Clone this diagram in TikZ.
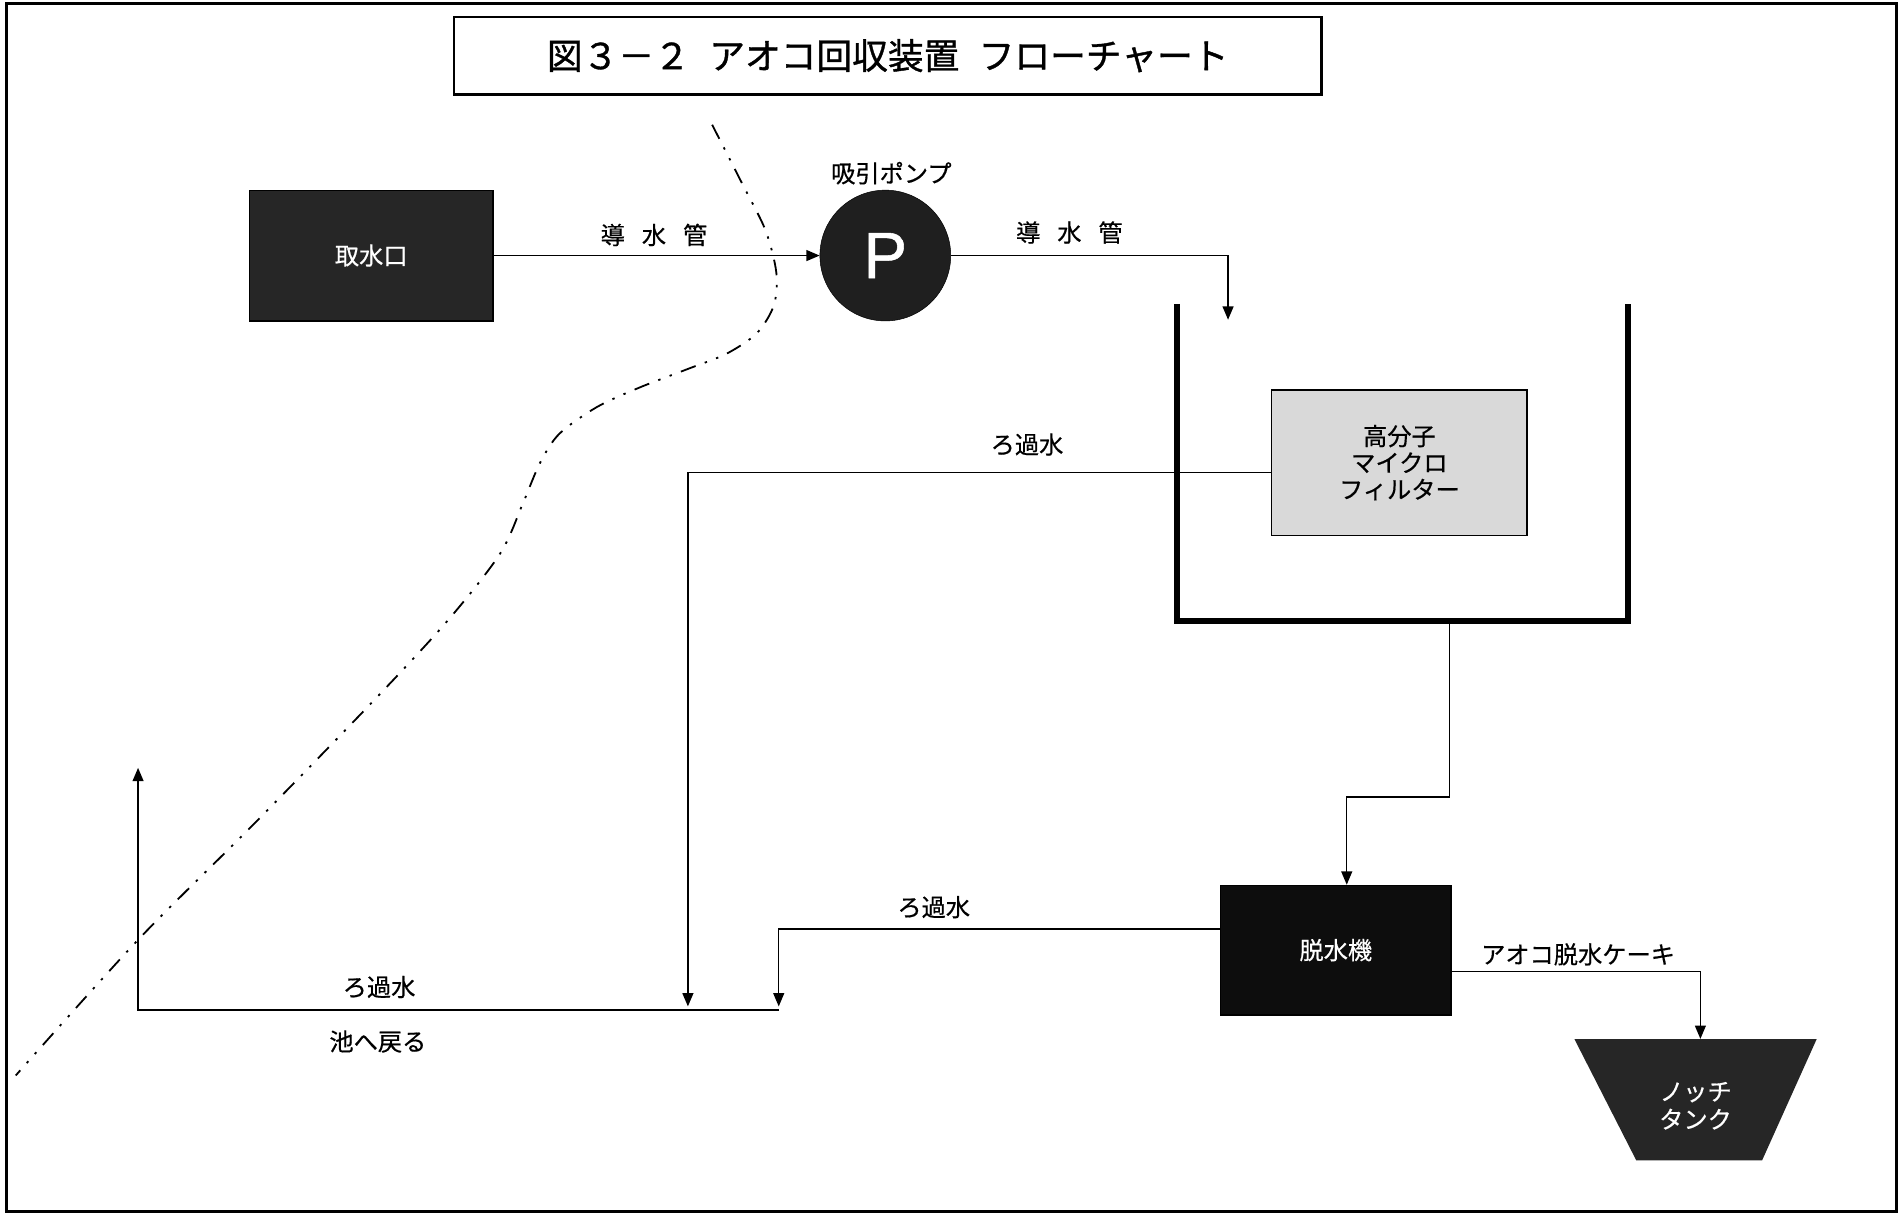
\documentclass[tikz,border=0pt]{standalone}
\usepackage{fontspec}
\setmainfont{Noto Sans CJK JP}
\newfontfamily\jplbl{Noto Sans CJK JP}[FakeBold=0.5]
\newfontfamily\jptitle{Noto Sans CJK JP}[FakeBold=1]
\newfontfamily\pfont{Liberation Sans}[FakeBold=0.8]
\usetikzlibrary{arrows.meta}
\begin{document}
\begin{tikzpicture}[x=1pt,y=-1pt,
  conn/.style={line width=1.2pt},
  arr/.style={conn,-{Triangle[length=11pt,width=9pt]}},
  lbl/.style={font=\jplbl\fontsize{20}{22}\selectfont, inner sep=0pt},
  darkbox/.style={fill=black!85, draw=black, line width=1pt, text=white, font=\jplbl\fontsize{20}{22}\selectfont},
  boundary/.style={line width=1.5pt, dash pattern=on 13pt off 8pt on 2pt off 8pt on 2pt off 8pt},
]
\useasboundingbox (0,0) rectangle (1568,1005);
\draw[line width=2.5pt] (5,2.5) rectangle (1566,1000.5);

% title
\node[draw, line width=2pt, minimum width=716pt, minimum height=64pt,
      font=\jptitle\fontsize{29.5}{32}\selectfont] (title) at (733,46)
      {図３－２\hspace{16pt}アオコ回収装置\hspace{16pt}フローチャート};

% boundary of the pond (dash-dot-dot)
\draw[boundary] plot[smooth] coordinates {(588,103) (612,150) (632,190) (641,225) (639,252) (625,275) (600,292) (567,305) (528,320) (493,336) (462,358) (446,382) (432,415) (413,457) (370,512) (309,578) (210,680) (114,776) (13,888)};

% nodes
\node[darkbox, minimum width=201pt, minimum height=108pt] (intake) at (306.5,211) {取水口};
\node[circle, fill=black!88, draw=black, minimum size=108pt, inner sep=0pt, text=white,
      font=\pfont\fontsize{54}{54}\selectfont] (pump) at (731,211) {P};
\node[lbl] (pumplbl) at (736,143) {吸引ポンプ};

\node[draw, line width=1.2pt, fill=black!15, minimum width=211pt, minimum height=120pt,
      align=center, font=\jplbl\fontsize{20}{22}\selectfont] (filter) at (1155.5,382)
      {高分子\\マイクロ\\フィルター};

\node[darkbox, fill=black!95, minimum width=190pt, minimum height=107pt] (dewater) at (1103,784.5) {脱水機};

\fill[black!85] (1300,858) -- (1500,858) -- (1455,958) -- (1351,958) -- cycle;
\node[align=center, text=white, font=\jplbl\fontsize{20}{23}\selectfont, minimum height=110pt, inner sep=0pt]
      (notch) at (1400,913) {ノッチ\\タンク};

% tank
\draw[line width=5pt, line join=miter] (972,251) -- (972,513) -- (1344,513) -- (1344,251);
\coordinate (tankin) at (1014,264);
\coordinate (tankout) at (1197,513);
\coordinate (bend) at (1112,658);
\coordinate (j1) at (568,831);
\coordinate (j2) at (643,831);
\coordinate (ret0) at (643,834);
\coordinate (ret1) at (114,634);

% connectors
\draw[arr] (intake) -- (pump);
\draw[arr] (pump.east) -| (tankin);
\draw[arr] ([yshift=-8pt]filter.west) -| (j1);
\draw[arr] (tankout) |- (bend) -- ([xshift=9pt]dewater.north);
\draw[arr] ([yshift=17.5pt]dewater.west) -| (j2);
\draw[arr] (ret0) -| (ret1);
\draw[arr] ([yshift=-17.5pt]dewater.east) -| ([xshift=4pt]notch.north);

% labels
\node[lbl] (l1) at (540,194) {導\hspace{14pt}水\hspace{14pt}管};
\node[lbl] (l2) at (883,192) {導\hspace{14pt}水\hspace{14pt}管};
\node[lbl] (l3) at (848,367) {ろ過水};
\node[lbl] (l4) at (771,749) {ろ過水};
\node[lbl] (l5) at (1303,788) {アオコ脱水ケーキ};
\node[lbl] (l6) at (313,815) {ろ過水};
\node[lbl] (l7) at (312,860) {池へ戻る};
\end{tikzpicture}
\end{document}
